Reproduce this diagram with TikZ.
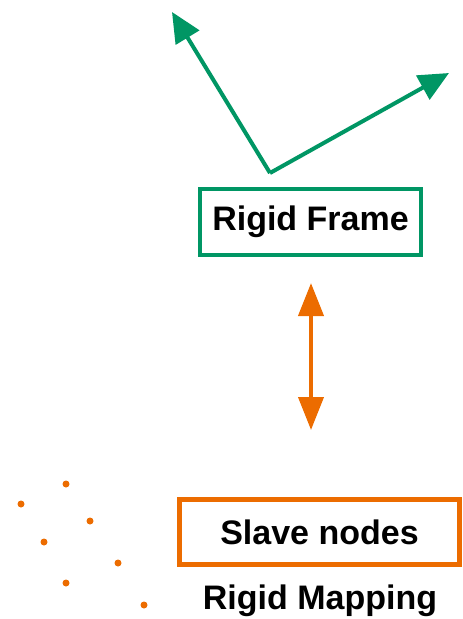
\documentclass[tikz,border=0pt]{standalone}
\usepackage{fontspec}
\setmainfont{Liberation Sans}
\usetikzlibrary{arrows.meta}
\definecolor{framegreen}{RGB}{0,150,100}
\definecolor{slaveorange}{RGB}{236,108,0}
\tikzstyle{frame}=[draw=framegreen, line width=4pt, minimum width=221pt, minimum height=66pt, font=\fontsize{34}{38}\selectfont\bfseries]
\tikzstyle{slave}=[draw=slaveorange, line width=5pt, minimum width=280pt, minimum height=65pt, font=\fontsize{34}{38}\selectfont\bfseries]
\tikzstyle{axis}=[framegreen, line width=4pt, -{Triangle[length=30pt, width=27pt]}]
\tikzstyle{dot}=[circle, fill=slaveorange, inner sep=0pt, minimum size=7pt]

\begin{document}
\begin{tikzpicture}[x=1pt, y=-1pt]
                \useasboundingbox (0, 0) rectangle (463, 619);
                % frame axes
                \coordinate (o) at (270, 173);
                \coordinate (ex) at (449, 73);
                \coordinate (ey) at (172, 12);
                \draw[axis] (o)--(ey);
                \draw[axis] (o)--(ex);
                \node[frame] (rf) at (310.5, 222) {Rigid Frame};
                % mapping
                \coordinate (up) at (311, 283);
                \coordinate (dn) at (311, 430);
                \draw[slaveorange, line width=4pt, {Triangle[length=33pt, width=25pt]}-{Triangle[length=33pt, width=25pt]}] (up)--(dn);
                \node[slave] (sn) at (319.5, 532) {Slave nodes};
                \node[font=\fontsize{34}{38}\selectfont\bfseries] (rm) at (320, 601) {Rigid Mapping};
                % slave points
                \foreach \x/\y [count=\i] in {66/484, 21/504, 90/521, 44/542, 118/563, 66/583, 144/605}
                    \node[dot] (p\i) at (\x, \y) {};
            \end{tikzpicture}
\end{document}
